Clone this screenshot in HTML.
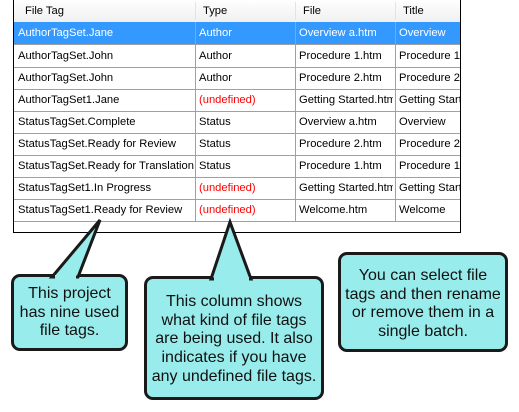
<!DOCTYPE html>
<html><head><style>
body{margin:0;width:519px;height:412px;background:#fff;position:relative;overflow:hidden;font-family:"Liberation Sans",Arial,sans-serif;}
.tbl{position:absolute;left:13px;top:0;width:446px;height:232px;border:1px solid #000;border-top:none;background:#fff;overflow:hidden}
.hdr{position:absolute;left:0;top:0;width:446px;height:22px;background:linear-gradient(#fff,#f0f0f0);border-bottom:1px solid #d5d5d5}
.c{position:absolute;font-size:11.2px;white-space:nowrap;overflow:hidden;line-height:22px;color:#000;width:94px}
.c1{width:176px}
.row{position:absolute;left:0;width:446px;height:22px;border-bottom:1px solid #a0a0a0}
.sel{background:#3399ff}
.sel .c{color:#fff}
.v{position:absolute;top:0;width:1px;background:#a0a0a0}
.r{color:#ff0000 !important}
.box{position:absolute;background:#98eceb;border:3px solid #1a1a1a;border-radius:9px;box-sizing:border-box;text-align:center;font-size:16px;line-height:18.7px;color:#111}
</style></head><body>
<div class="tbl">
 <div class="hdr">
  <div class="c" style="left:11px">File Tag</div>
  <div class="c" style="left:189px">Type</div>
  <div class="c" style="left:289px">File</div>
  <div class="c" style="left:389px">Title</div>
 </div>
 <div class="row sel" style="top:22px"><div class="c c1" style="left:4px">AuthorTagSet.Jane</div><div class="c" style="left:185px">Author</div><div class="c" style="left:285px">Overview a.htm</div><div class="c" style="left:385px">Overview</div></div>
 <div class="row" style="top:45px"><div class="c c1" style="left:4px">AuthorTagSet.John</div><div class="c" style="left:185px">Author</div><div class="c" style="left:285px">Procedure 1.htm</div><div class="c" style="left:385px">Procedure 1</div></div>
 <div class="row" style="top:67px"><div class="c c1" style="left:4px">AuthorTagSet.John</div><div class="c" style="left:185px">Author</div><div class="c" style="left:285px">Procedure 2.htm</div><div class="c" style="left:385px">Procedure 2</div></div>
 <div class="row" style="top:89px"><div class="c c1" style="left:4px">AuthorTagSet1.Jane</div><div class="c r" style="left:185px">(undefined)</div><div class="c" style="left:285px">Getting Started.htm</div><div class="c" style="left:385px">Getting Started</div></div>
 <div class="row" style="top:111px"><div class="c c1" style="left:4px">StatusTagSet.Complete</div><div class="c" style="left:185px">Status</div><div class="c" style="left:285px">Overview a.htm</div><div class="c" style="left:385px">Overview</div></div>
 <div class="row" style="top:133px"><div class="c c1" style="left:4px">StatusTagSet.Ready for Review</div><div class="c" style="left:185px">Status</div><div class="c" style="left:285px">Procedure 2.htm</div><div class="c" style="left:385px">Procedure 2</div></div>
 <div class="row" style="top:155px"><div class="c c1" style="left:4px">StatusTagSet.Ready for Translation</div><div class="c" style="left:185px">Status</div><div class="c" style="left:285px">Procedure 1.htm</div><div class="c" style="left:385px">Procedure 1</div></div>
 <div class="row" style="top:177px"><div class="c c1" style="left:4px">StatusTagSet1.In Progress</div><div class="c r" style="left:185px">(undefined)</div><div class="c" style="left:285px">Getting Started.htm</div><div class="c" style="left:385px">Getting Started</div></div>
 <div class="row" style="top:199px"><div class="c c1" style="left:4px">StatusTagSet1.Ready for Review</div><div class="c r" style="left:185px">(undefined)</div><div class="c" style="left:285px">Welcome.htm</div><div class="c" style="left:385px">Welcome</div></div>
 <div class="v" style="left:181px;top:22px;height:199px"></div>
 <div class="v" style="left:281px;top:22px;height:199px"></div>
 <div class="v" style="left:381px;top:22px;height:199px"></div>
 <div class="v" style="left:181px;top:2px;height:18px;background:#e3e3e3"></div>
 <div class="v" style="left:281px;top:2px;height:18px;background:#e3e3e3"></div>
 <div class="v" style="left:381px;top:2px;height:18px;background:#e3e3e3"></div>
</div>

<div class="box" style="left:11px;top:274px;width:117px;height:77px;padding-top:8px">This project<br>has nine used<br>file tags.</div>
<div class="box" style="left:144px;top:276px;width:180px;height:124px;padding-top:14px">This column shows<br>what kind of file tags<br>are being used. It also<br>indicates if you have<br>any undefined file tags.</div>
<div class="box" style="left:338px;top:252px;width:170px;height:100px;padding-top:12px">You can select file<br>tags and then rename<br>or remove them in a<br>single batch.</div>

<svg width="519" height="412" style="position:absolute;left:0;top:0">
 <polygon points="52,277 100,220 78,277" fill="#98eceb" stroke="#1a1a1a" stroke-width="3" stroke-linejoin="miter"/>
 <polygon points="211,279 230,222 251,279" fill="#98eceb" stroke="#1a1a1a" stroke-width="3"/>
 <rect x="55" y="275" width="21" height="6" fill="#98eceb"/>
 <rect x="214" y="277" width="35" height="6" fill="#98eceb"/>
</svg>
</body></html>
